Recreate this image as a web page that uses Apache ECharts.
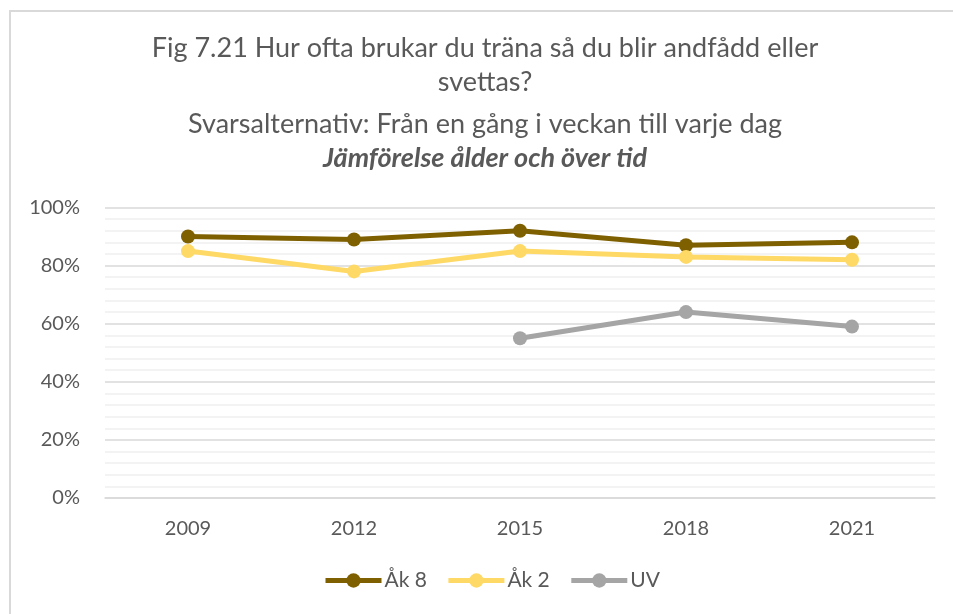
<!DOCTYPE html>
<html>
<head>
<meta charset="utf-8">
<script src="https://cdn.jsdelivr.net/npm/echarts@6/dist/echarts.min.js"></script>
<style>
  html, body { margin: 0; padding: 0; background: #fff; }
  #chart { width: 953px; height: 614px; }
</style>
</head>
<body>
<div id="chart"></div>
<script>
// Survey years on the category axis
const years = ['2009', '2012', '2015', '2018', '2021'];

// Share answering "once a week to every day", in percent
const ak8 = [90, 89, 92, 87, 88];
const ak2 = [85, 78, 85, 83, 82];
const uv = [null, null, 55, 64, 59];

const seriesNames = ['Åk 8', 'Åk 2', 'UV'];
const seriesColors = ['#7F6000', '#FFD966', '#A5A5A5'];

const titleLines = [
  'Fig 7.21 Hur ofta brukar du träna så du blir andfådd eller',
  'svettas?',
  'Svarsalternativ: Från en gång i veckan till varje dag',
  'Jämförelse ålder och över tid'
];

const FONT = 'Lato, "Open Sans", sans-serif';
const TEXT = '#595959';

const chart = echarts.init(document.getElementById('chart'), null, { renderer: 'canvas' });

function lineSeries(name, data, color) {
  return {
    name: name,
    type: 'line',
    data: data,
    color: color,
    symbol: 'circle',
    symbolSize: 14,
    lineStyle: { width: 5, color: color },
    itemStyle: { color: color },
    connectNulls: false,
    z: 3
  };
}

// vertical centres of the four heading lines
const titleCentres = [48, 82, 124, 158];
const TITLE_SIZE = 27;

chart.setOption({
  backgroundColor: '#ffffff',
  animation: false,
  graphic: [{
    type: 'rect',
    shape: { x: 10, y: 11, width: 960, height: 620 },
    style: { fill: 'none', stroke: '#d9d9d9', lineWidth: 2 },
    silent: true
  }],
  title: titleLines.map((t, i) => ({
    text: t,
    left: 485,
    top: titleCentres[i] - TITLE_SIZE / 2 - 2,
    textAlign: 'center',
    padding: 0,
    textStyle: {
      fontFamily: FONT,
      fontSize: TITLE_SIZE,
      lineHeight: TITLE_SIZE + 4,
      fontWeight: i === 3 ? 'bold' : 'normal',
      fontStyle: i === 3 ? 'italic' : 'normal',
      color: TEXT
    }
  })),
  legend: {
    data: seriesNames,
    top: 570,
    left: 323,
    padding: 0,
    itemWidth: 56,
    itemHeight: 18,
    itemGap: 19,
    lineStyle: { width: 5 },
    itemStyle: { borderWidth: 0 },
    textStyle: { fontFamily: FONT, fontSize: 21, color: TEXT, padding: [0, 0, 0, -2] }
  },
  grid: { left: 105, right: 18, top: 207.5, bottom: 116 },
  xAxis: {
    type: 'category',
    data: years,
    boundaryGap: true,
    axisLine: { show: true, lineStyle: { color: '#d9d9d9', width: 1.5 } },
    axisTick: { show: false },
    axisLabel: { fontFamily: FONT, fontSize: 20, color: TEXT, margin: 21 }
  },
  yAxis: {
    type: 'value',
    min: 0,
    max: 100,
    interval: 20,
    axisLine: { show: false },
    axisTick: { show: false },
    axisLabel: { fontFamily: FONT, fontSize: 20, color: TEXT, margin: 25, formatter: '{value}%' },
    splitLine: { lineStyle: { color: '#d9d9d9', width: 1.5 } },
    minorTick: { show: false, splitNumber: 5 },
    minorSplitLine: { show: true, lineStyle: { color: '#f0f0f0', width: 1.5 } }
  },
  series: [
    lineSeries(seriesNames[0], ak8, seriesColors[0]),
    lineSeries(seriesNames[1], ak2, seriesColors[1]),
    lineSeries(seriesNames[2], uv, seriesColors[2])
  ]
});
</script>
</body>
</html>
